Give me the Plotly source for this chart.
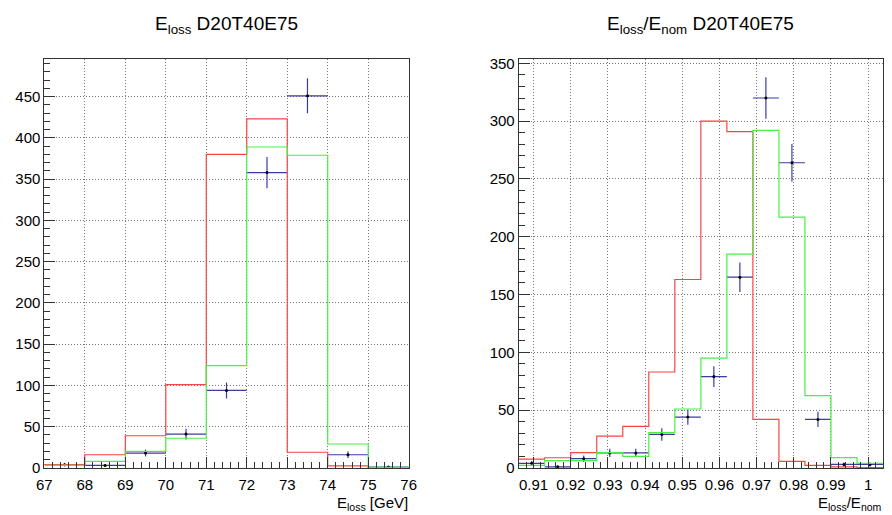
import numpy as np
import plotly.graph_objects as go

# ---------------- data ----------------
# Left: E_loss [GeV], 9 bins from 67 to 76
left_edges = [67, 68, 69, 70, 71, 72, 73, 74, 75, 76]
left_red = [4, 16, 39, 101, 380, 423, 19, 2.4, 0.3]
left_green = [3, 8, 20, 36, 124, 389, 379, 29, 0.8]
left_data = [4, 3, 18, 41, 94, 358, 451, 16, 1]
left_err = [2.0, 1.7, 4.2, 6.4, 9.7, 18.9, 21.2, 4.0, 1.0]

# Right: E_loss/E_nom, 14 bins from 0.906 to 1.004
right_lo, right_hi, right_nbins = 0.906, 1.004, 14
right_red = [7.6, 8.8, 13.3, 27.5, 36, 83, 163, 300, 291, 42, 5.7, 2.3, 1.0, 0.3]
right_green = [2.3, 6.3, 6.3, 13.3, 10, 30.6, 51, 95, 185, 292, 217, 62.6, 9, 4]
right_data = [4, 1, 8, 13, 13, 29, 44, 79, 165, 320, 264, 42, 3, 3]
right_err = [2.0, 1.0, 2.8, 3.6, 3.6, 5.4, 6.6, 8.9, 12.8, 17.9, 16.2, 6.5, 1.7, 1.7]

left_title = "E<sub>loss</sub> D20T40E75"
right_title = "E<sub>loss</sub>/E<sub>nom</sub> D20T40E75"
left_xlabel = "E<sub>loss</sub> [GeV]"
right_xlabel = "E<sub>loss</sub>/E<sub>nom</sub>"

RED = "#f74444"
GREEN = "#47ef47"
BLUE = "#3b3ba6"
FONT = "Liberation Sans, Arial, sans-serif"

W, H = 892, 515


def step_xy(edges, vals):
    edges = list(edges)
    vals = list(vals)
    return edges, vals + [vals[-1]]


fig = go.Figure()


def add_panel(edges, red, green, data, err, xa, ya):
    edges = np.asarray(edges, dtype=float)
    centers = 0.5 * (edges[:-1] + edges[1:])
    halfw = 0.5 * (edges[1:] - edges[:-1])
    fig.add_trace(go.Scatter(
        x=centers, y=data, mode="markers",
        marker=dict(color="black", size=3),
        error_x=dict(type="data", array=halfw, color=BLUE, thickness=1.2, width=0),
        error_y=dict(type="data", array=err, color=BLUE, thickness=1.2, width=0),
        xaxis=xa, yaxis=ya, showlegend=False, hoverinfo="skip"))
    for vals, col in ((red, RED), (green, GREEN)):
        sx, sy = step_xy(edges, vals)
        fig.add_trace(go.Scatter(
            x=sx, y=sy, mode="lines", line=dict(color=col, width=1.2, shape="hv"),
            xaxis=xa, yaxis=ya, showlegend=False, hoverinfo="skip"))


add_panel(left_edges, left_red, left_green, left_data, left_err, "x", "y")
right_edges = np.linspace(right_lo, right_hi, right_nbins + 1)
add_panel(right_edges, right_red, right_green, right_data, right_err, "x2", "y2")

y_bot = (H - 475) / H
y_top = (H - 56) / H

axis_common = dict(
    showline=True, mirror=True, linecolor="#333", linewidth=1,
    ticks="inside", ticklen=11, tickcolor="#333", tickwidth=1,
    showgrid=True, gridcolor="#777", griddash="1px,2px", gridwidth=1,
    zeroline=False,
    tickfont=dict(family=FONT, size=15, color="black"),
)

fig.update_layout(
    width=W, height=H,
    margin=dict(l=0, r=0, t=0, b=0),
    paper_bgcolor="white", plot_bgcolor="white",
    font=dict(family=FONT, color="black"),
    xaxis=dict(domain=[37 / W, 408 / W], range=[67, 76], tick0=67, dtick=1,
               ticklabelstandoff=3,
               minor=dict(dtick=0.2, ticklen=6, ticks="inside", tickcolor="#333", showgrid=False),
               anchor="y", **axis_common),
    yaxis=dict(domain=[y_bot, y_top], range=[0, 496], tick0=0, dtick=50,
               minor=dict(dtick=10, ticklen=6, ticks="inside", tickcolor="#333", showgrid=False),
               anchor="x", **axis_common),
    xaxis2=dict(domain=[520 / W, 891 / W], range=[right_lo, right_hi], tick0=0.91, dtick=0.01,
                ticklabelstandoff=3,
                minor=dict(dtick=0.002, ticklen=6, ticks="inside", tickcolor="#333", showgrid=False),
                anchor="y2", **axis_common),
    yaxis2=dict(domain=[y_bot, y_top], range=[0, 354], tick0=0, dtick=50,
                minor=dict(dtick=10, ticklen=6, ticks="inside", tickcolor="#333", showgrid=False),
                anchor="x2", **axis_common),
)

ann = []
for xref, title in (("x domain", left_title), ("x2 domain", right_title)):
    ann.append(dict(text=title, xref=xref, yref="paper", x=0.5, y=(H - 21) / H,
                    xanchor="center", yanchor="middle", showarrow=False,
                    font=dict(family=FONT, size=19, color="black")))
for xref, lab in (("x domain", left_xlabel), ("x2 domain", right_xlabel)):
    ann.append(dict(text=lab, xref=xref, yref="paper", x=1, y=-7 / H,
                    xanchor="right", yanchor="bottom", showarrow=False,
                    borderpad=0,
                    font=dict(family=FONT, size=15, color="black")))
fig.update_layout(annotations=ann)

fig.write_html("out.html")
